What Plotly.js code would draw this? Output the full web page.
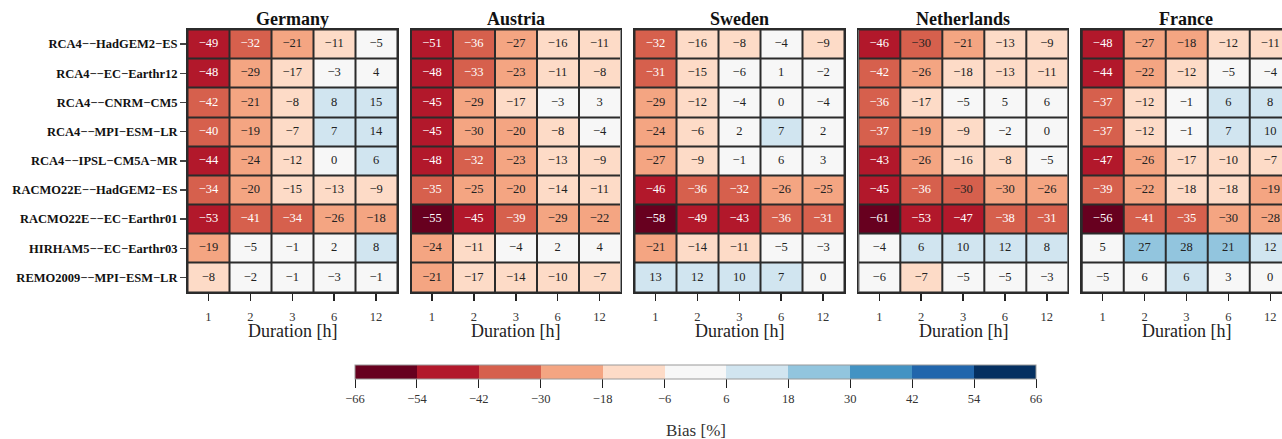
<!DOCTYPE html>
<html>
<head>
<meta charset="utf-8">
<script src="https://cdn.plot.ly/plotly-3.0.1.min.js"></script>
<style>
html, body { margin: 0; padding: 0; overflow: hidden; background: #fff; }
#chart { width: 1300px; height: 439px; }
</style>
</head>
<body>
<div id="chart"></div>
<script>
// ---------------- data ----------------
const durations = ['1', '2', '3', '6', '12'];
const models = [
  'RCA4−−HadGEM2−ES',
  'RCA4−−EC−Earthr12',
  'RCA4−−CNRM−CM5',
  'RCA4−−MPI−ESM−LR',
  'RCA4−−IPSL−CM5A−MR',
  'RACMO22E−−HadGEM2−ES',
  'RACMO22E−−EC−Earthr01',
  'HIRHAM5−−EC−Earthr03',
  'REMO2009−−MPI−ESM−LR'
];
const countries = ['Germany', 'Austria', 'Sweden', 'Netherlands', 'France'];

const germany = [
  [-49, -32, -21, -11, -5],
  [-48, -29, -17, -3, 4],
  [-41.6, -21, -8, 8, 15],
  [-40, -19, -7, 7, 14],
  [-44, -24, -12, 0, 6.3],
  [-34, -20, -15, -13, -9],
  [-53, -41, -34, -26, -18.3],
  [-19, -5, -1, 2, 8],
  [-8, -2, -1, -3, -1]
];
const austria = [
  [-51, -36, -27, -16, -11],
  [-48, -33, -23, -11, -8],
  [-45, -29, -17, -3, 3],
  [-45, -29.7, -20, -8, -4],
  [-48, -32, -23, -13, -9],
  [-35, -25, -20, -14, -11],
  [-55, -45, -39, -29, -22],
  [-24, -11, -4, 2, 4],
  [-21, -17, -14, -10, -7]
];
const sweden = [
  [-32, -16, -8, -4, -9],
  [-31, -15, -5.8, 1, -2],
  [-29, -12, -4, 0, -4],
  [-24, -6.2, 2, 7, 2],
  [-27, -9, -1, 5.8, 3],
  [-46, -36, -32, -26, -25],
  [-58, -49, -43, -36, -31],
  [-21, -14, -11, -5, -3],
  [13, 12, 10, 7, 0]
];
const netherlands = [
  [-46, -30.3, -21, -13, -9],
  [-41.7, -26, -17.8, -13, -11],
  [-36, -17, -5, 5, 5.8],
  [-37, -19, -9, -2, 0],
  [-43, -26, -16, -8, -5],
  [-45, -36, -30.3, -29.8, -26],
  [-61, -53, -47, -38, -31],
  [-4, 6.2, 10, 12, 8],
  [-5.8, -7, -5, -5, -3]
];
const france = [
  [-48, -27, -18.2, -12, -11],
  [-44, -22, -12, -5, -4],
  [-37, -12, -1, 6.2, 8],
  [-37, -12, -1, 7, 10],
  [-47, -26, -17, -10, -7],
  [-39, -22, -17.8, -17.8, -19],
  [-56, -41, -35, -29.8, -28],
  [5, 27, 28, 21, 12],
  [-5, 5.8, 6.3, 3, 0]
];
const panels = [germany, austria, sweden, netherlands, france];

const colorbarTicks = [-66, -54, -42, -30, -18, -6, 6, 18, 30, 42, 54, 66];
const binColors = ['#67001f', '#b2182b', '#d6604d', '#f4a582', '#fddbc7', '#f7f7f7',
                   '#d1e5f0', '#92c5de', '#4393c3', '#2166ac', '#053061'];

// ---------------- layout helpers ----------------
const W = 1300, H = 439;
const FONT = 'Liberation Serif, Times New Roman, serif';
const panelLeft = [187.5, 411, 634.5, 858.3, 1081.7];
const panelW = 209.5;
const plotTop = 29.5, plotBottom = 292;
const yDomain = [1 - plotBottom / H, 1 - plotTop / H];

function fmt(v) {
  const r = Math.round(v);
  return r < 0 ? '\u2212' + Math.abs(r) : String(r);
}

const colorscale = [];
binColors.forEach((c, i) => {
  colorscale.push([i / binColors.length, c]);
  colorscale.push([(i + 1) / binColors.length, c]);
});

const traces = [];
const layout = {
  width: W, height: H,
  margin: {l: 0, r: 0, t: 0, b: 0},
  paper_bgcolor: '#ffffff',
  plot_bgcolor: '#2b2b2b',
  showlegend: false,
  font: {family: FONT, color: '#222'},
  coloraxis: {
    cmin: -66, cmax: 66,
    colorscale: colorscale,
    colorbar: {
      orientation: 'h',
      x: 695.5 / W, xanchor: 'center',
      y: 1 - 365 / H, yanchor: 'top',
      thickness: 14, thicknessmode: 'pixels',
      len: 681, lenmode: 'pixels',
      xpad: 0, ypad: 0,
      outlinewidth: 1, outlinecolor: '#999',
      tickmode: 'array',
      tickvals: colorbarTicks,
      ticktext: colorbarTicks.map(fmt),
      ticks: 'outside', ticklen: 9, tickcolor: '#222', tickwidth: 1,
      tickfont: {family: FONT, size: 12.5, color: '#333'}
    }
  },
  annotations: []
};

panels.forEach((vals, p) => {
  const idx = p === 0 ? '' : String(p + 1);
  const xa = 'x' + idx, ya = 'y' + idx;
  traces.push({
    type: 'heatmap',
    x: durations, y: models, z: vals,
    coloraxis: 'coloraxis',
    xgap: 2, ygap: 2,
    xaxis: xa, yaxis: ya,
    hoverinfo: 'skip'
  });
  const tx = [], ty = [], tt = [], tc = [];
  vals.forEach((row, r) => row.forEach((v, c) => {
    tx.push(durations[c]); ty.push(models[r]); tt.push(fmt(v));
    tc.push(v <= -30.5 ? '#ffffff' : '#222222');
  }));
  traces.push({
    type: 'scatter', mode: 'text',
    x: tx, y: ty, text: tt,
    textposition: 'middle center',
    textfont: {family: FONT, size: 12.5, color: tc},
    xaxis: xa, yaxis: ya,
    hoverinfo: 'skip', cliponaxis: false
  });
  const x0 = panelLeft[p] / W, x1 = (panelLeft[p] + panelW) / W;
  layout['xaxis' + idx] = {
    domain: [x0, x1], anchor: ya, type: 'category',
    range: [-0.5, 4.5],
    showgrid: false, zeroline: false,
    showline: true, mirror: true, linecolor: '#2b2b2b', linewidth: 1.5,
    ticks: 'outside', ticklen: 7, tickcolor: '#222', tickwidth: 1.5,
    ticklabelstandoff: 5,
    tickfont: {family: FONT, size: 12.5, color: '#333'},
    fixedrange: true
  };
  layout['yaxis' + idx] = {
    domain: yDomain, anchor: xa, type: 'category',
    range: [8.5, -0.5],
    showgrid: false, zeroline: false,
    showline: true, mirror: true, linecolor: '#2b2b2b', linewidth: 1.5,
    showticklabels: p === 0,
    ticks: p === 0 ? 'outside' : '', ticklen: 6, tickcolor: '#444', tickwidth: 1.5,
    tickfont: {family: FONT, size: 12.5, color: '#111', weight: 'bold'},
    fixedrange: true
  };
  const xc = (panelLeft[p] + panelW / 2) / W;
  layout.annotations.push({
    xref: 'paper', yref: 'paper', x: xc, y: 1 - 19 / H,
    xanchor: 'center', yanchor: 'middle', showarrow: false,
    text: '<b>' + countries[p] + '</b>',
    font: {family: FONT, size: 18, color: '#111'}
  });
  layout.annotations.push({
    xref: 'paper', yref: 'paper', x: xc, y: 1 - 331 / H,
    xanchor: 'center', yanchor: 'middle', showarrow: false,
    text: 'Duration [h]',
    font: {family: FONT, size: 18, color: '#222'}
  });
});

layout.annotations.push({
  xref: 'paper', yref: 'paper', x: 695.5 / W, y: 1 - 430 / H,
  xanchor: 'center', yanchor: 'middle', showarrow: false,
  text: 'Bias [%]',
  font: {family: FONT, size: 17, color: '#333'}
});

Plotly.newPlot('chart', traces, layout, {displayModeBar: false, responsive: false, staticPlot: true});
</script>
</body>
</html>
